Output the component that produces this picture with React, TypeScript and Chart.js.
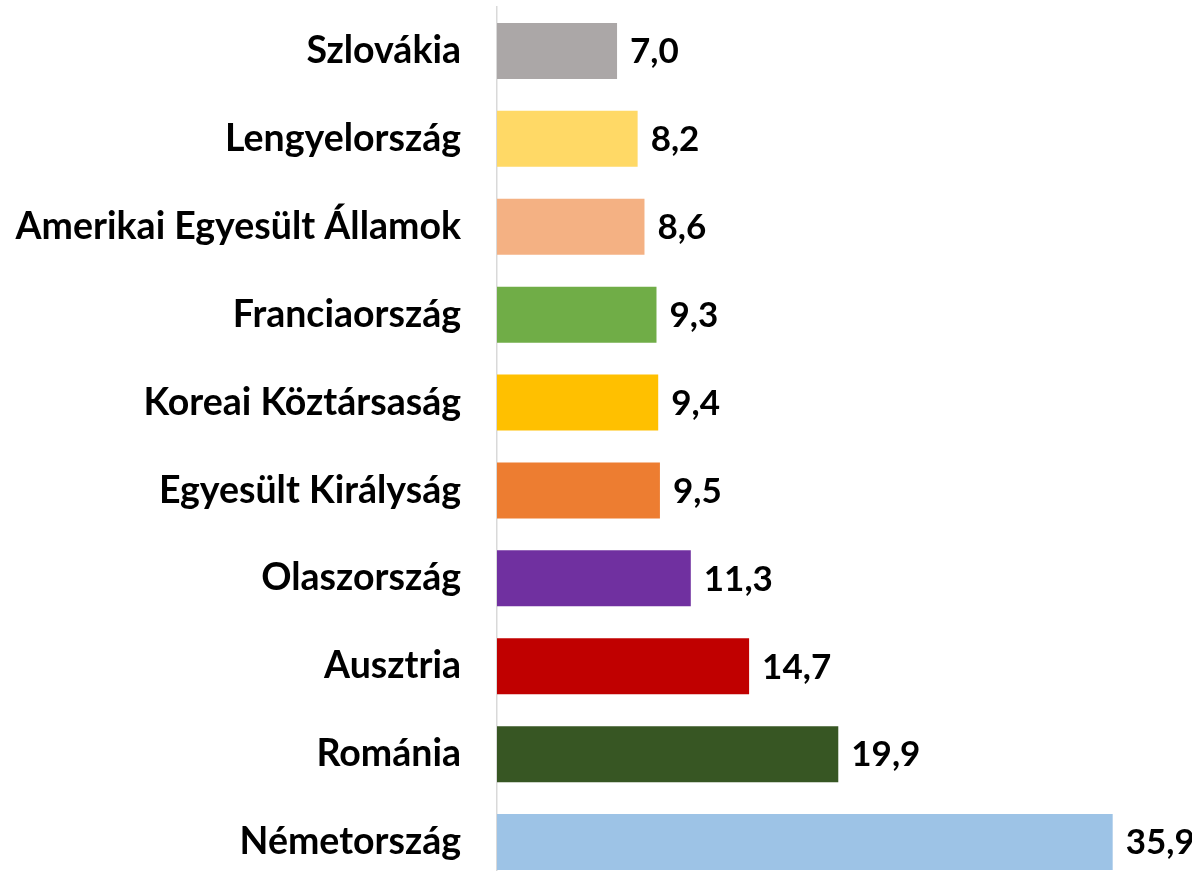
import React, { useEffect, useRef } from "react";
import { Chart, registerables } from "chart.js";

Chart.register(...registerables);

const categories = [
  "Szlovákia",
  "Lengyelország",
  "Amerikai Egyesült Államok",
  "Franciaország",
  "Koreai Köztársaság",
  "Egyesült Királyság",
  "Olaszország",
  "Ausztria",
  "Románia",
  "Németország",
];

const values = [7.0, 8.2, 8.6, 9.3, 9.4, 9.5, 11.3, 14.7, 19.9, 35.9];

const barColors = [
  "#ABA7A7",
  "#FFD966",
  "#F4B183",
  "#70AD47",
  "#FFC000",
  "#ED7D31",
  "#7030A0",
  "#C00000",
  "#375623",
  "#9DC3E6",
];

const FONT_FAMILY = "Lato, 'Open Sans', sans-serif";
const FONT_SIZE = 37.5;
const VALUE_FONT_SIZE = 35;

const valueLabels = {
  id: "valueLabels",
  afterDatasetsDraw(chart: any) {
    const ctx = chart.ctx;
    const meta = chart.getDatasetMeta(0);
    ctx.save();
    ctx.font = `bold ${VALUE_FONT_SIZE}px ${FONT_FAMILY}`;
    ctx.fillStyle = "#000000";
    ctx.textAlign = "left";
    ctx.textBaseline = "middle";
    meta.data.forEach((bar: any, i: number) => {
      const txt = values[i].toFixed(1).replace(".", ",");
      ctx.fillText(txt, bar.x + 13, bar.y + 1);
    });
    ctx.restore();
  },
};

export default function App() {
  const ref = useRef<HTMLCanvasElement>(null);
  useEffect(() => {
    if (!ref.current) return;
    const chart = new Chart(ref.current, {
      type: "bar",
      data: {
        labels: categories,
        datasets: [
          {
            data: values,
            backgroundColor: barColors,
            borderWidth: 0,
            barPercentage: 0.637,
            categoryPercentage: 1,
          },
        ],
      },
      options: {
        indexAxis: "y",
        responsive: false,
        animation: false,
        layout: { padding: { top: 7, right: 9, bottom: 0, left: 0 } },
        plugins: {
          legend: { display: false },
          tooltip: { enabled: false },
        },
        scales: {
          x: {
            min: 0,
            max: 40,
            display: false,
          },
          y: {
            afterFit(scale: any) {
              scale.width = 497;
              scale.paddingTop = 0;
              scale.paddingBottom = 0;
            },
            grid: {
              display: true,
              drawOnChartArea: false,
              drawTicks: true,
              tickLength: 36,
              color: "rgba(0,0,0,0)",
              tickColor: "rgba(0,0,0,0)",
            },
            border: { display: true, color: "#D9D9D9", width: 1.5 },
            ticks: {
              padding: 0,
              color: "#000000",
              font: { family: FONT_FAMILY, size: FONT_SIZE, weight: "bold" },
            },
          },
        },
      },
      plugins: [valueLabels],
    });
    return () => chart.destroy();
  }, []);
  return (
    <div
      style={{
        position: "fixed",
        top: 0,
        left: 0,
        width: 1192,
        height: 871,
        overflow: "hidden",
        background: "#fff",
      }}
    >
      <canvas ref={ref} width={1192} height={886} style={{ display: "block" }} />
    </div>
  );
}
